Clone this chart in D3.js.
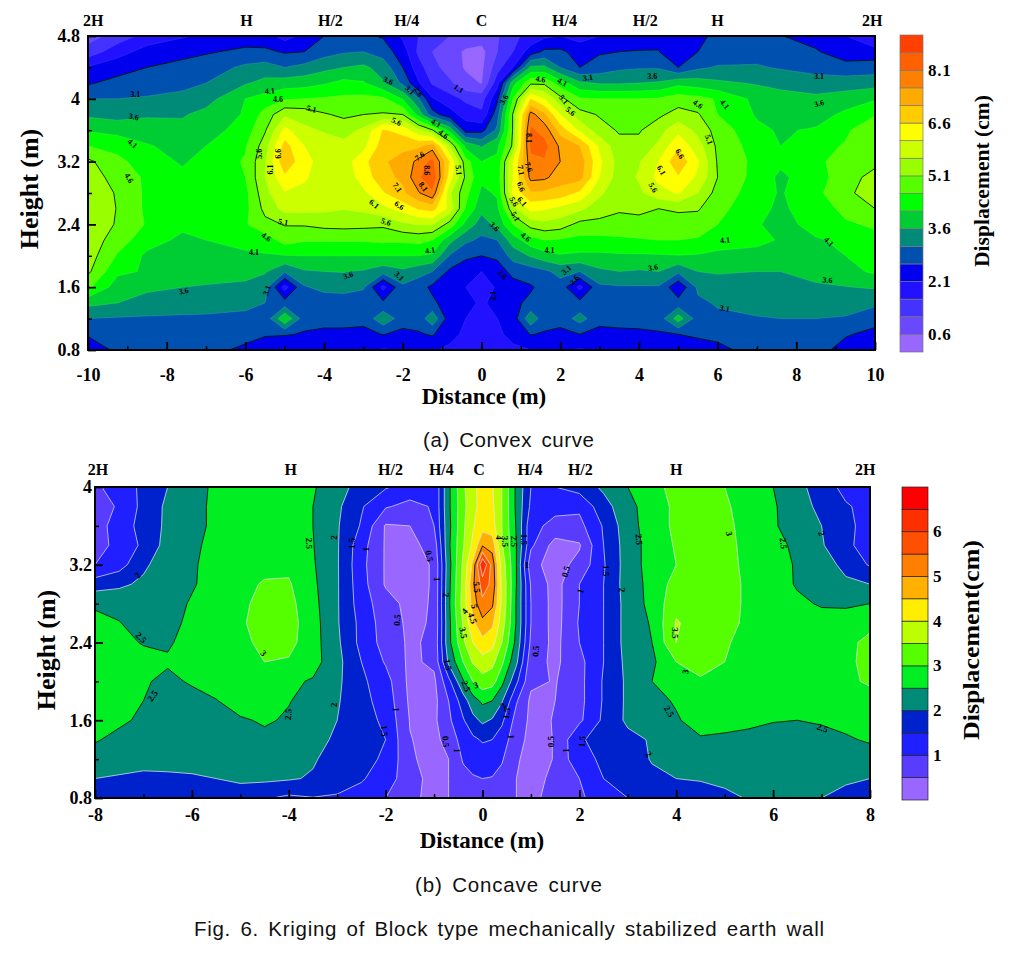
<!DOCTYPE html>
<html><head><meta charset="utf-8">
<script src="https://cdnjs.cloudflare.com/ajax/libs/d3/7.8.5/d3.min.js"></script>
<style>
html,body{margin:0;padding:0;background:#fff;}
svg{display:block;}
.serif{font-family:"Liberation Serif",serif;font-weight:bold;fill:#000;}
.cap{font-family:"Liberation Sans",sans-serif;fill:#111;word-spacing:3px;}
.axis path,.axis line{stroke:#000;}
.axis text{font-family:"Liberation Serif",serif;font-weight:bold;fill:#000;}
</style></head><body>
<svg id="c" width="1016" height="958"></svg>
<script>
// ---------- panel (a) Convex curve ----------
const xA=[-10,-9.25,-8.5,-7.6,-7,-6,-5.5,-5,-4.5,-4,-3.5,-3,-2.5,-2,-1.6,-1.25,-0.8,-0.4,0,0.4,0.8,1.25,1.6,2,2.5,3,3.5,4,4.5,5,5.5,6,7,7.6,8.5,9.25,10];
const yA=[0.8,1.0,1.2,1.4,1.6,1.8,2.0,2.2,2.4,2.6,2.8,3.0,3.2,3.4,3.6,3.8,4.0,4.2,4.4,4.6,4.8];
const zA=[
[2.3,2.7,2.85,2.85,2.75,2.5,2.3,2.05,2.2,2.3,2.3,2.25,2.05,2.15,2.2,2.15,2.0,1.8,1.7, 1.8,2.0,2.1,2.2,2.15,2.05,2.2,2.3,2.35,2.4,2.4,2.45,2.5,2.75,2.85,2.8,2.4,2.2],
[2.65,2.85,2.95,2.95,2.95,2.75,2.65,2.65,2.55,2.5,2.5,2.45,2.62,2.45,2.55,2.65,2.25,2.0,1.9, 2.0,2.25,2.62,2.55,2.45,2.6,2.45,2.5,2.52,2.55,2.6,2.65,2.7,2.9,2.95,2.9,2.65,2.45],
[3.1,3.05,3.02,3.0,3.0,2.95,2.75,4.05,2.8,2.75,2.75,2.75,3.45,2.85,2.8,3.45,2.3,2.1,2.05, 2.1,2.35,3.45,2.8,2.8,3.3,2.75,2.75,2.75,2.8,3.85,2.85,3.0,3.05,3.1,3.1,3.05,2.8],
[3.75,3.6,3.5,3.4,3.35,3.25,3.1,2.8,2.85,2.8,2.8,2.85,2.7,2.85,2.85,2.7,2.35,2.2,2.05, 2.2,2.5,2.7,2.8,2.85,2.75,2.85,2.85,2.85,2.85,2.8,3.0,3.15,3.35,3.4,3.45,3.35,3.2],
[4.7,3.85,3.65,3.6,3.55,3.5,3.3,1.9,3.05,3.25,3.3,3.15,1.95,3.0,2.8,2.5,2.35,2.1,1.9, 2.15,2.4,2.55,2.75,2.9,1.95,3.0,3.05,3.05,3.05,2.2,3.2,3.35,3.48,3.5,3.55,3.58,3.65],
[5.2,4.2,4.05,3.95,3.85,3.75,3.65,3.15,3.55,3.6,3.62,3.55,3.3,3.5,3.3,3.1,2.5,2.3,2.1, 2.35,2.75,2.85,3.0,3.25,3.1,3.5,3.6,3.55,3.6,3.2,3.6,3.65,3.6,3.6,3.72,3.9,4.2],
[5.35,4.55,4.0,3.85,3.9,4.02,4.05,4.08,4.1,4.1,4.1,4.1,4.1,4.1,4.1,4.02,3.05,2.7,2.6, 2.7,3.3,3.65,3.9,4.05,4.0,4.0,4.03,4.03,4.05,4.08,4.05,3.95,3.9,3.85,3.95,4.1,4.35],
[5.4,4.85,4.3,4.0,4.1,4.25,4.35,4.8,4.65,4.65,4.65,4.65,4.7,4.7,4.75,4.6,3.75,3.2,3.0, 3.1,3.85,4.4,4.6,4.55,4.45,4.45,4.5,4.55,4.6,4.6,4.55,4.4,4.25,4.05,4.05,4.2,4.5],
[5.45,5.05,4.55,4.2,4.35,4.55,4.95,5.13,5.15,5.25,5.28,5.25,5.2,5.5,5.62,5.62,4.9,3.95,3.35, 3.75,4.6,5.3,5.45,5.35,4.95,4.95,4.95,4.95,4.95,4.95,4.85,4.6,4.15,3.9,4.3,4.55,4.65],
[5.45,5.08,4.5,4.3,4.3,4.45,5.25,5.75,5.75,5.7,5.62,5.7,5.95,6.3,6.65,6.8,5.9,4.55,3.75, 4.0,5.45,6.25,6.15,5.95,5.7,5.35,5.15,5.2,5.1,5.15,5.15,4.75,4.25,4.0,4.4,4.7,5.1],
[5.45,5.05,4.5,4.35,4.3,4.45,5.45,6.05,6.0,5.85,5.8,6.0,6.55,7.0,7.55,8.0,5.65,4.75,4.0, 4.15,6.2,7.05,7.0,6.9,6.5,5.7,5.25,5.5,5.9,6.15,5.6,4.9,4.35,4.05,4.5,4.9,5.55],
[5.3,4.95,4.5,4.2,4.3,4.6,5.6,6.5,6.15,5.9,5.8,6.3,6.95,7.2,8.0,8.6,6.3,5.0,4.2, 4.3,6.1,7.75,7.7,7.35,7.3,6.1,5.35,5.65,6.25,6.55,6.0,5.1,4.4,4.0,4.4,4.85,5.3],
[5.2,4.75,4.3,4.05,4.25,4.65,5.55,7.0,6.25,5.9,5.85,6.45,7.05,7.25,7.75,8.3,6.55,4.8,4.1, 4.2,6.1,7.9,8.05,7.6,7.4,6.2,5.4,5.55,6.1,7.0,6.15,5.05,4.45,4.2,4.5,4.8,4.95],
[4.6,4.4,4.15,3.9,4.1,4.55,5.35,6.8,6.1,5.85,5.75,5.95,6.85,7.0,7.0,7.35,5.55,3.95,3.55, 4.0,5.2,8.3,8.3,7.5,7.1,6.0,5.25,5.25,5.7,6.5,5.8,5.0,4.35,4.1,4.4,4.65,4.95],
[4.05,3.95,3.8,3.75,3.85,4.35,5.05,6.25,5.7,5.55,5.4,5.7,6.65,6.4,5.7,5.15,3.9,2.4,2.45, 3.2,5.15,8.2,7.9,6.9,6.0,5.3,5.05,5.05,5.4,5.95,5.45,4.9,4.2,4.05,4.15,4.5,5.05],
[3.5,3.4,3.55,3.55,3.75,4.15,4.8,5.5,5.4,5.15,5.0,5.1,5.15,5.1,3.9,2.8,2.3,1.9,1.7, 2.9,5.15,7.8,7.2,6.1,5.3,5.05,4.85,4.8,5.0,5.3,5.15,4.6,4.05,3.95,3.9,4.2,4.55],
[3.1,3.1,3.15,3.25,3.4,4.1,4.3,4.55,4.6,4.65,4.7,4.75,4.7,4.05,3.15,2.15,1.8,1.5,1.4, 2.5,4.6,6.6,6.1,5.25,4.65,4.6,4.6,4.6,4.65,4.85,4.75,4.55,3.95,3.8,3.7,3.85,4.05],
[2.55,2.75,2.85,2.95,3.1,3.55,3.75,3.85,3.9,4.05,4.25,4.15,3.65,3.0,2.15,1.55,1.2,0.75,0.58, 1.9,3.9,5.0,5.0,4.35,3.7,3.55,3.55,3.6,3.65,3.95,3.85,3.7,3.55,3.45,3.35,3.35,3.4],
[2.15,2.4,2.6,2.75,2.85,3.2,3.3,3.1,3.25,3.45,3.6,3.7,3.4,2.6,1.8,1.3,0.85,0.55,0.5, 1.4,2.1,3.7,3.7,3.1,2.6,2.8,3.0,3.05,3.05,2.6,3.0,3.15,3.15,3.05,2.9,2.8,2.85],
[1.3,1.9,2.3,2.45,2.55,2.7,2.7,2.55,2.6,2.9,3.05,3.1,2.85,2.35,1.5,1.1,0.75,0.55,0.45, 1.1,1.6,2.35,2.7,2.7,2.4,2.55,2.6,2.62,2.62,2.2,2.6,2.75,2.9,2.85,2.65,2.3,2.3],
[0.9,1.3,1.8,2.05,2.2,2.35,2.3,1.9,2.25,2.6,2.8,2.7,2.55,2.0,1.6,1.4,1.1,0.85,0.85, 1.05,1.5,1.75,2.0,2.1,1.9,2.1,2.3,2.4,2.45,2.3,2.5,2.7,2.8,2.62,2.4,2.1,1.6]
];
const levelsA=[0.6,1.1,1.6,2.1,2.6,3.1,3.6,4.1,4.6,5.1,5.6,6.1,6.6,7.1,7.6,8.1,8.6];
const coloursA=["#9966ff","#6a48ff","#4433ff","#2211ff","#0000ee","#0050b0","#008a78","#00cc33","#00ff00","#55ff00","#99ff00","#ccff00","#ffff00","#ffcc00","#ffaa00","#ff8000","#ff6000","#ff4000"];
const blackA=[2.6,5.1,7.6];
const barTicksA=[0.6,2.1,3.6,5.1,6.6,8.1];
const topA=[["2H",-9.87],["H",-5.97],["H/2",-3.84],["H/4",-1.9],["C",0],["H/4",2.11],["H/2",4.16],["H",6.0],["2H",9.93]];
const xTicksA=[-10,-8,-6,-4,-2,0,2,4,6,8,10];
const yTicksA=[0.8,1.6,2.4,3.2,4,4.8];
const labelsA=[["3.1",-8.8,4.06,0],["3.6",-8.84,3.77,10],["4.1",-8.87,3.43,40],["4.6",-8.96,2.99,60],["4.1",-5.38,4.1,-5],["4.6",-5.17,3.99,0],["5.1",-4.32,3.87,15],["5.6",-2.16,3.71,25],["3.6",-2.37,4.23,25],["3.1",-1.82,4.11,45],["2.6",-1.6,4.09,60],["1.1",-0.58,4.13,35],["4.1",-1.16,3.69,30],["4.6",-0.97,3.55,40],["5.1",-0.58,3.09,85],["7.6",-1.57,3.27,-35],["8.6",-1.4,3.09,90],["8.1",-1.48,2.88,55],["7.1",-2.14,2.87,55],["6.6",-2.09,2.64,35],["6.1",-2.73,2.66,40],["5.6",-2.43,2.43,20],["5.1",-5.04,2.43,10],["4.6",-5.47,2.24,35],["4.1",-5.78,2.05,0],["4.1",-1.31,2.07,-10],["3.6",-3.39,1.75,-20],["3.1",-2.09,1.74,45],["3.1",-5.45,1.56,-70],["3.6",-7.57,1.55,-10],["5.6",-5.65,3.3,-90],["6.1",-5.36,3.1,-90],["6.6",-5.17,3.3,-90],
["4.6",1.5,4.25,10],["4.1",2.05,4.21,30],["5.1",2.09,3.99,50],["5.6",2.26,3.84,40],["3.1",2.7,4.27,-10],["3.6",4.34,4.28,0],["4.6",5.5,3.93,35],["4.1",6.18,3.93,50],["3.1",8.58,4.29,0],["3.6",8.58,3.94,-15],["5.1",5.78,3.48,70],["3.6",0.57,3.99,-60],["8.1",1.2,3.5,90],["7.6",1.2,3.13,70],["7.1",1.0,3.09,80],["6.6",1.0,2.88,70],["6.1",1.03,2.69,50],["5.6",0.82,2.69,60],["5.1",0.86,2.5,60],["6.6",5.04,3.3,60],["6.1",4.57,3.09,60],["5.6",4.36,2.87,60],["3.6",0.33,2.37,45],["4.6",1.12,2.24,40],["4.1",1.73,2.07,0],["4.1",6.19,2.2,-5],["4.1",8.83,2.18,45],["3.6",4.36,1.85,-10],["3.6",8.79,1.69,5],["3.1",6.18,1.33,10],["3.1",2.16,1.82,-40],["2.6",2.36,1.69,-50],["2.6",0.53,1.76,45],["2.1",0.3,1.49,-90]];

// ---------- panel (b) Concave curve ----------
const xB=[-8,-7.5,-7,-6.5,-6,-5.5,-5,-4.5,-4,-3.5,-3,-2.5,-2,-1.5,-1,-0.7,-0.4,-0.2,0,0.2,0.4,0.7,1,1.5,2,2.5,3,3.5,4,4.5,5,5.5,6,6.5,7,7.5,8];
const yB=[0.8,1.0,1.2,1.4,1.6,1.8,2.0,2.2,2.4,2.6,2.8,3.0,3.2,3.4,3.6,3.8,4.0];
const zB=[
[1.9,1.85,1.8,1.78,1.8,1.85,1.85,1.55,1.4,1.48,1.45,1.3,1.0,0.62,0.35,0.5,0.7,0.75,0.75, 0.75,0.7,0.5,0.4,0.65,0.95,1.15,1.5,1.65,1.55,1.7,1.9,2.03,2.1,2.05,2.0,1.9,1.85],
[2.0,1.95,1.9,1.92,1.95,2.0,2.05,2.1,2.05,1.95,1.7,1.55,1.25,0.7,0.32,0.5,0.85,0.95,1.0, 0.98,0.85,0.5,0.35,0.6,1.0,1.5,1.7,1.85,2.0,2.05,2.1,2.1,2.1,2.1,2.1,2.05,2.0],
[2.25,2.2,2.15,2.15,2.15,2.15,2.2,2.25,2.25,2.05,1.8,1.6,1.45,0.58,0.3,0.5,1.05,1.2,1.25, 1.2,1.05,0.55,0.35,0.52,1.4,1.55,1.65,2.05,2.15,2.2,2.25,2.25,2.25,2.25,2.25,2.25,2.3],
[2.55,2.35,2.25,2.2,2.2,2.25,2.3,2.4,2.35,2.2,1.9,1.65,1.5,0.52,0.35,0.7,1.2,1.4,1.55, 1.5,1.25,0.7,0.35,0.52,1.45,1.65,1.85,2.05,2.4,2.45,2.42,2.4,2.35,2.3,2.35,2.45,2.55],
[2.7,2.6,2.4,2.3,2.3,2.35,2.45,2.55,2.45,2.3,2.0,1.7,1.4,0.48,0.4,0.9,1.45,1.85,2.1, 1.95,1.6,0.8,0.4,0.52,0.9,1.6,2.1,2.3,2.45,2.7,2.65,2.58,2.52,2.5,2.55,2.62,2.7],
[2.6,2.55,2.5,2.35,2.35,2.48,2.7,2.75,2.52,2.35,2.05,1.65,1.3,0.42,0.35,1.0,1.75,2.3,2.6, 2.5,2.05,1.05,0.4,0.5,0.85,1.55,2.1,2.35,2.55,2.7,2.75,2.75,2.75,2.75,2.7,2.7,2.7],
[2.65,2.6,2.55,2.4,2.55,2.7,2.8,2.85,2.6,2.45,2.1,1.6,1.2,0.38,0.4,1.35,2.45,3.0,3.3, 3.2,2.65,1.6,0.6,0.47,0.85,1.55,2.1,2.5,2.75,2.95,2.9,2.8,2.75,2.75,2.8,2.85,3.1],
[2.75,2.7,2.65,2.55,2.7,2.75,2.85,3.0,2.95,2.7,2.15,1.5,0.95,0.4,0.6,2.1,3.0,3.55,3.8, 3.65,3.1,2.1,0.7,0.4,0.85,1.5,2.15,2.4,3.0,3.15,3.0,2.85,2.75,2.75,2.8,2.85,3.2],
[2.7,2.62,2.47,2.45,2.65,2.8,2.9,3.1,3.15,2.7,2.1,1.35,0.8,0.42,0.6,2.35,3.4,4.0,4.35, 4.2,3.5,2.35,0.9,0.35,1.0,1.5,2.2,2.5,3.5,3.2,3.05,2.85,2.75,2.8,2.85,2.9,3.1],
[2.6,2.52,2.3,2.3,2.65,2.75,2.95,3.15,3.2,2.7,2.05,1.35,0.75,0.4,0.55,2.35,3.55,4.4,4.85, 4.6,3.75,2.45,1.0,0.3,1.05,1.5,2.2,2.55,3.55,3.25,3.15,2.9,2.75,2.7,2.7,2.75,2.9],
[2.45,2.35,2.25,2.3,2.55,2.7,2.9,3.15,3.15,2.65,2.05,1.25,0.7,0.35,0.55,2.4,3.7,4.7,5.4, 5.1,3.9,2.45,1.0,0.3,1.0,1.5,2.2,2.65,3.35,3.25,3.2,2.9,2.75,2.6,2.45,2.42,2.5],
[1.75,1.9,2.1,2.3,2.45,2.7,2.85,3.05,3.05,2.6,2.05,1.2,0.45,0.3,0.55,2.35,3.65,4.9,5.7, 5.4,3.9,2.5,0.95,0.3,1.0,1.5,2.25,2.65,3.2,3.3,3.2,2.9,2.75,2.45,2.25,2.1,2.0],
[1.0,1.3,1.9,2.3,2.45,2.65,2.75,2.85,2.9,2.55,2.05,1.15,0.45,0.3,0.55,2.3,3.6,4.6,6.5, 5.3,3.8,2.5,0.65,0.3,0.65,1.45,2.25,2.7,3.0,3.2,3.2,2.85,2.7,2.45,2.25,1.85,1.45],
[0.8,1.15,1.6,2.2,2.4,2.65,2.75,2.8,2.85,2.52,2.05,1.2,0.45,0.35,0.7,2.4,3.45,4.1,4.95, 4.8,3.55,2.5,1.1,0.3,0.45,1.5,2.25,2.7,3.05,3.2,3.15,2.85,2.65,2.4,2.05,1.6,1.3],
[0.8,1.2,1.7,2.1,2.35,2.6,2.75,2.8,2.8,2.5,2.05,1.45,0.45,0.5,1.0,2.35,3.4,3.95,4.3, 4.2,3.5,2.45,1.15,0.85,0.85,1.55,2.3,2.75,3.1,3.2,3.1,2.85,2.55,2.3,2.0,1.6,1.35],
[0.8,1.05,1.65,2.1,2.35,2.6,2.75,2.8,2.8,2.5,2.1,1.55,1.05,0.85,1.05,2.4,3.35,3.85,4.2, 4.1,3.5,2.4,1.4,1.15,1.1,1.8,2.35,2.75,3.1,3.2,3.05,2.85,2.55,2.25,1.85,1.55,1.35],
[0.9,1.25,1.6,2.0,2.3,2.6,2.8,2.85,2.85,2.55,2.2,1.8,1.55,1.3,1.05,2.4,3.4,3.9,4.15, 4.05,3.5,2.4,1.5,1.5,1.7,2.1,2.5,2.85,3.15,3.2,3.0,2.8,2.5,2.15,1.75,1.35,1.2]
];
const levelsB=[0.5,1,1.5,2,2.5,3,3.5,4,4.5,5,5.5,6,6.5];
const coloursB=["#9966ff","#5a3cff","#1f1fff","#0022cc","#008a78","#00ee22","#55ff00","#bbff00","#ffee00","#ffb000","#ff8000","#ff5000","#ff3000","#ff0000"];
const blackB=[2.5,5];
const barTicksB=[1,2,3,4,5,6];
const topB=[["2H",-7.94],["H",-3.96],["H/2",-1.9],["H/4",-0.85],["C",-0.07],["H/4",0.98],["H/2",2.02],["H",4.0],["2H",7.9]];
const xTicksB=[-8,-6,-4,-2,0,2,4,6,8];
const yTicksB=[0.8,1.6,2.4,3.2,4];
const labelsB=[["2.5",-3.59,3.42,90],["2",-3.06,3.48,-90],["1.5",-2.69,3.42,-90],["1",-2.41,3.36,-90],["2",-7.12,3.09,-50],["2.5",-7.05,2.45,45],["3",-4.52,2.29,45],["0.5",-1.1,3.29,80],["1",-0.94,3.05,90],["2",-0.76,2.89,90],["0.5",-1.76,2.63,-85],["1.5",-0.72,2.17,80],["2.5",-6.81,1.85,-55],["2",-3.07,1.76,-90],["1",-1.79,1.71,90],["2.5",-4.01,1.66,-85],["1.5",-2.03,1.49,85],["0.5",-0.76,1.38,85],["1",-0.53,1.29,90],["5.5",-0.12,2.97,85],["5",-0.17,2.77,80],["4.5",-0.21,2.65,70],["4",-0.37,2.72,-50],["3.5",-0.4,2.5,80],["3",-0.14,1.96,-20],["2.5",-0.34,1.95,70],
["1.5",0.85,3.46,90],["2.5",0.64,3.44,90],["3.5",0.47,3.44,90],["4",0.33,3.48,90],["1",0.92,3.2,0],["0.5",1.72,3.13,-75],["1",2.02,2.93,-70],["1.5",2.54,3.14,90],["2",2.88,2.94,90],["2.5",3.23,3.46,85],["3",5.09,3.52,80],["2.5",6.21,3.42,85],["2",7.0,3.52,70],["3.5",3.97,2.5,90],["3",4.19,2.1,-80],["0.5",1.1,2.31,-85],["2.5",3.85,1.69,60],["2",0.43,1.75,-60],["1.5",0.5,1.67,-80],["1",0.59,1.43,90],["0.5",1.42,1.38,-90],["1",1.72,1.29,-90],["1.5",2.06,1.38,-85],["2",3.43,1.25,50],["2.5",7.02,1.52,20]];

const svg=d3.select("#c");

function panel(o){
  const n=o.xs.length,m=o.ys.length;
  o.z.forEach((r,i)=>{if(r.length!==n)throw new Error("row "+i+" has "+r.length);});
  if(o.z.length!==m)throw new Error("rows "+o.z.length);
  const x=d3.scaleLinear().domain(o.xDomain).range(o.xRange);
  const y=d3.scaleLinear().domain(o.yDomain).range(o.yRange);
  // grid index -> pixel, d3.contours puts sample i at i+0.5
  const ix=[0,...o.xs.map((_,i)=>i+.5),n], iy=[0,...o.ys.map((_,i)=>i+.5),m];
  const px=d3.scaleLinear().domain(ix).range([o.xs[0],...o.xs,o.xs[n-1]].map(x));
  const py=d3.scaleLinear().domain(iy).range([o.ys[0],...o.ys,o.ys[m-1]].map(y));
  const path=d3.geoPath(d3.geoTransform({point(a,b){this.stream.point(px(a),py(b));}}));
  const id="clip"+o.id;
  svg.append("clipPath").attr("id",id).append("rect").attr("x",o.xRange[0]).attr("y",o.yRange[1]).attr("width",o.xRange[1]-o.xRange[0]).attr("height",o.yRange[0]-o.yRange[1]);
  const g=svg.append("g").attr("clip-path",`url(#${id})`);
  g.append("rect").attr("x",o.xRange[0]).attr("y",o.yRange[1]).attr("width",o.xRange[1]-o.xRange[0]).attr("height",o.yRange[0]-o.yRange[1]).attr("fill",o.colours[0]);
  const cs=d3.contours().size([n,m]).thresholds(o.levels)(o.z.flat());
  g.selectAll("path.f").data(cs).join("path").attr("class","f").attr("d",path).attr("fill",(d,i)=>o.colours[i+1]).attr("stroke",(d,i)=>o.colours[i+1]).attr("stroke-width",.3);
  g.selectAll("path.l").data(cs).join("path").attr("class","l").attr("d",path).attr("fill","none")
    .attr("stroke",d=>o.black.includes(d.value)?"#06130a":o.lineColour)
    .attr("stroke-opacity",d=>o.black.includes(d.value)?1:o.lineOpacity)
    .attr("stroke-width",.9);
  g.selectAll("text").data(o.labels).join("text").attr("class","serif")
    .attr("transform",d=>`translate(${x(d[1])},${y(d[2])}) rotate(${d[3]})`)
    .attr("text-anchor","middle").attr("dy","0.33em").attr("font-size",o.labelSize).text(d=>d[0]);
  // axes
  const minorX=d3.range(o.xDomain[0],o.xDomain[1]+.01,1), minorY=d3.range(o.yDomain[0],o.yDomain[1]+.01,.4);
  const ax=svg.append("g").attr("class","axis").attr("transform",`translate(0,${o.yRange[0]})`)
    .call(d3.axisBottom(x).tickValues(minorX.filter(v=>!o.xTicks.includes(v))).tickSize(-4).tickFormat(""));
  ax.selectAll("line").attr("stroke-width",1.5);
  const ax2=svg.append("g").attr("class","axis").attr("transform",`translate(0,${o.yRange[0]})`)
    .call(d3.axisBottom(x).tickValues(o.xTicks).tickSizeInner(-8).tickSizeOuter(0).tickPadding(o.xPad).tickFormat(d=>String(d)));
  ax2.selectAll("line").attr("stroke-width",1.8);
  ax2.selectAll("text").attr("font-size",o.tickSize).attr("dy",0);
  ax2.selectAll("text").attr("y",o.xBase);
  const ay=svg.append("g").attr("class","axis").attr("transform",`translate(${o.xRange[0]},0)`)
    .call(d3.axisLeft(y).tickValues(minorY.filter(v=>!o.yTicks.some(t=>Math.abs(t-v)<1e-6))).tickSize(-4).tickFormat(""));
  ay.selectAll("line").attr("stroke-width",1.5);
  const ay2=svg.append("g").attr("class","axis").attr("transform",`translate(${o.xRange[0]},0)`)
    .call(d3.axisLeft(y).tickValues(o.yTicks).tickSizeInner(-8).tickSizeOuter(0).tickPadding(o.yPad).tickFormat(d=>d===4?"4":d3.format(".1f")(d)));
  ay2.selectAll("line").attr("stroke-width",1.8);
  ay2.selectAll("text").attr("font-size",o.tickSize);
  svg.append("rect").attr("x",o.xRange[0]).attr("y",o.yRange[1]).attr("width",o.xRange[1]-o.xRange[0]).attr("height",o.yRange[0]-o.yRange[1]).attr("fill","none").attr("stroke","#000").attr("stroke-width",2);
  // position labels above the frame
  svg.selectAll("text.t"+o.id).data(o.top).join("text").attr("class","serif t"+o.id)
    .attr("x",d=>x(d[1])).attr("y",o.topY).attr("text-anchor","middle").attr("font-size",o.topSize).text(d=>d[0]);
  // titles
  svg.append("text").attr("class","serif").attr("x",o.xTitle[0]).attr("y",o.xTitle[1]).attr("text-anchor","middle").attr("font-size",o.xTitle[2]).text("Distance (m)");
  svg.append("text").attr("class","serif").attr("transform",`translate(${o.yTitle[0]},${o.yTitle[1]}) rotate(-90)`).attr("text-anchor","middle").attr("font-size",o.yTitle[2]).text("Height (m)");
  // colour bar
  const by=d3.scaleLinear().domain([0,o.colours.length]).range([o.bar.y1,o.bar.y0]);
  svg.selectAll("rect.b"+o.id).data(o.colours).join("rect").attr("class","b"+o.id)
    .attr("x",o.bar.x).attr("width",o.bar.w).attr("y",(d,i)=>by(i+1)).attr("height",by(0)-by(1))
    .attr("fill",d=>d).attr("stroke",o.bar.stroke).attr("stroke-width",.7);
  svg.selectAll("text.bl"+o.id).data(o.barTicks).join("text").attr("class","serif bl"+o.id)
    .attr("x",o.bar.lx).attr("y",d=>by(o.levels.indexOf(d)+1)).attr("dy","0.33em").attr("font-size",o.bar.size).attr("letter-spacing",o.bar.spacing).text(d=>o.barFormat(d));
  svg.append("text").attr("class","serif").attr("transform",`translate(${o.bar.tx},${o.bar.ty}) rotate(-90)`).attr("text-anchor","middle").attr("font-size",o.bar.tsize).attr("textLength",o.bar.tlen).attr("lengthAdjust","spacingAndGlyphs").text(o.bar.title);
}

panel({id:"a",xs:xA,ys:yA,z:zA,levels:levelsA,colours:coloursA,black:blackA,lineColour:"#fff",lineOpacity:.12,labels:labelsA,labelSize:8,
  xDomain:[-10,10],xRange:[88,875],yDomain:[0.8,4.8],yRange:[350,36],xTicks:xTicksA,yTicks:yTicksA,xPad:8,yPad:8,tickSize:18,xBase:31,
  top:topA,topY:26,topSize:16,xTitle:[484,404,23],yTitle:[38,189,26],
  bar:{x:900,w:23,y0:35,y1:352,lx:928,size:17,spacing:.8,stroke:"#777",tx:989,ty:181,tsize:21,tlen:172,title:"Displacement (cm)"},barTicks:barTicksA,barFormat:d3.format(".1f")});

panel({id:"b",xs:xB,ys:yB,z:zB,levels:levelsB,colours:coloursB,black:blackB,lineColour:"#e6e6f0",lineOpacity:.8,labels:labelsB,labelSize:9,
  xDomain:[-8,8],xRange:[95,870],yDomain:[0.8,4],yRange:[798,487],xTicks:xTicksB,yTicks:yTicksB,xPad:8,yPad:3,tickSize:18,xBase:23,
  top:topB,topY:475,topSize:16,xTitle:[482,848,23],yTitle:[55,650,26],
  bar:{x:902,w:26,y0:487,y1:800,lx:933,size:17,spacing:0,stroke:"#222",tx:979,ty:640,tsize:23,tlen:200,title:"Displacement(cm)"},barTicks:barTicksB,barFormat:d3.format("d")});

// captions
const captions=[["(a) Convex curve",423,447,171],["(b) Concave curve",415,892,187],["Fig. 6. Kriging of Block type mechanically stabilized earth wall",194,936,630]];
svg.selectAll("text.cap").data(captions).join("text").attr("class","cap")
  .attr("x",d=>d[1]).attr("y",d=>d[2]).attr("font-size",20.5).attr("textLength",d=>d[3]).attr("lengthAdjust","spacing").text(d=>d[0]);
</script>
</body></html>
